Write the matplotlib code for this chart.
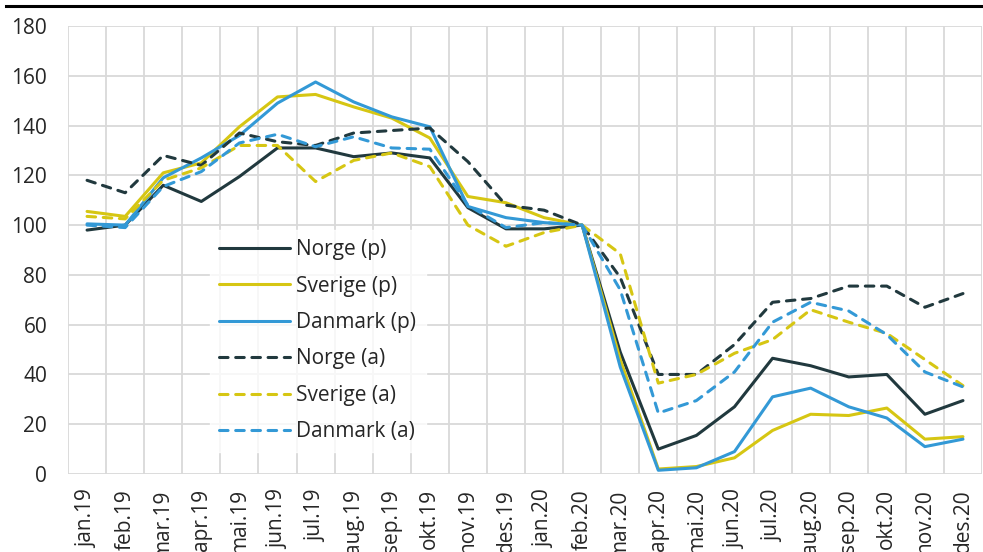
import matplotlib
matplotlib.use("Agg")
import matplotlib.pyplot as plt
from matplotlib.lines import Line2D

plt.rcParams['font.family'] = ['Open Sans', 'DejaVu Sans']

months = ['jan.19', 'feb.19', 'mar.19', 'apr.19', 'mai.19', 'jun.19', 'jul.19', 'aug.19',
          'sep.19', 'okt.19', 'nov.19', 'des.19', 'jan.20', 'feb.20', 'mar.20', 'apr.20',
          'mai.20', 'jun.20', 'jul.20', 'aug.20', 'sep.20', 'okt.20', 'nov.20', 'des.20']

norge_p = [98, 100, 116, 109.5, 119.5, 131, 131, 127.5, 129, 127, 107, 98.5,
           98.5, 100, 49, 10, 15.5, 27, 46.5, 43.5, 39, 40, 24, 29.5]
sverige_p = [105.5, 103.5, 121, 125, 139.5, 151.5, 152.5, 147.5, 143, 135, 111.5, 109,
             103, 100, 46, 2, 3, 6.5, 17.5, 24, 23.5, 26.5, 14, 15]
danmark_p = [100.5, 100, 119, 127, 136, 149, 157.5, 149.5, 143.5, 139.5, 107.5, 103,
             101, 100, 43, 1.5, 2.5, 9, 31, 34.5, 27, 22.5, 11, 14]
norge_a = [118, 113, 128, 124, 137, 133.5, 132, 137, 138, 139, 125.5, 108,
           106, 100, 79, 40, 40, 52, 69, 70.5, 75.5, 75.5, 67, 72.5]
sverige_a = [103.5, 102.5, 118, 123, 132, 132, 117.5, 126, 129, 123.5, 100, 91.5,
             97, 100, 88.5, 36.5, 40, 48.5, 54, 66, 61, 56.5, 46, 35.5]
danmark_a = [100, 99, 115.5, 121.5, 133, 136.5, 131.5, 135.5, 131, 130.5, 108, 99,
             101, 100, 74, 24.5, 29.5, 41, 61, 69, 65.5, 56, 41, 35]

dark = '#21393e'
yellow = '#d6c613'
blue = '#3399d6'

series = [
    ('Norge (p)', norge_p, dark, '-'),
    ('Sverige (p)', sverige_p, yellow, '-'),
    ('Danmark (p)', danmark_p, blue, '-'),
    ('Norge (a)', norge_a, dark, '--'),
    ('Sverige (a)', sverige_a, yellow, '--'),
    ('Danmark (a)', danmark_a, blue, '--'),
]

fig = plt.figure(figsize=(9.83, 5.52), dpi=100)
ax = fig.add_axes([0.0692, 0.1413, 0.9298, 0.8116])

x = list(range(len(months)))
for label, vals, color, ls in series:
    if ls == '-':
        ax.plot(x, vals, color=color, lw=2.2, label=label, solid_capstyle='round')
    else:
        ax.plot(x, vals, color=color, lw=2.2, label=label, linestyle=(0, (2.8, 2.5)),
                dash_capstyle='round')

ax.set_xlim(-0.5, len(months) - 0.5)
ax.set_ylim(0, 180)
ax.set_yticks(range(0, 181, 20))
ax.set_xticks(x)
ax.set_xticklabels(months, rotation=90, va='top', ha='center')
ax.set_xticks([i + 0.5 for i in range(-1, len(months))], minor=True)

ax.grid(True, axis='y', which='major', color='#d9d9d9', lw=1.3)
ax.grid(True, axis='x', which='minor', color='#d9d9d9', lw=1.3)
ax.set_axisbelow(True)
ax.tick_params(axis='both', which='both', length=0, labelsize=15, colors='#262626')
ax.tick_params(axis='y', pad=15)
ax.tick_params(axis='x', pad=11)
for s in ax.spines.values():
    s.set_visible(False)

leg = ax.legend(loc='upper left', bbox_to_anchor=(0.155, 0.545), frameon=True,
                fontsize=15, handlelength=3.4, handletextpad=0.3, labelspacing=0.74,
                borderpad=0.45, borderaxespad=0, fancybox=False)
leg.get_frame().set_facecolor('white')
leg.get_frame().set_edgecolor('white')
for t in leg.get_texts():
    t.set_color('#262626')

fig.add_artist(Line2D([0.006, 1.0], [0.989, 0.989], color='black', lw=2.2,
                      transform=fig.transFigure))

fig.savefig('out.png', dpi=100)
